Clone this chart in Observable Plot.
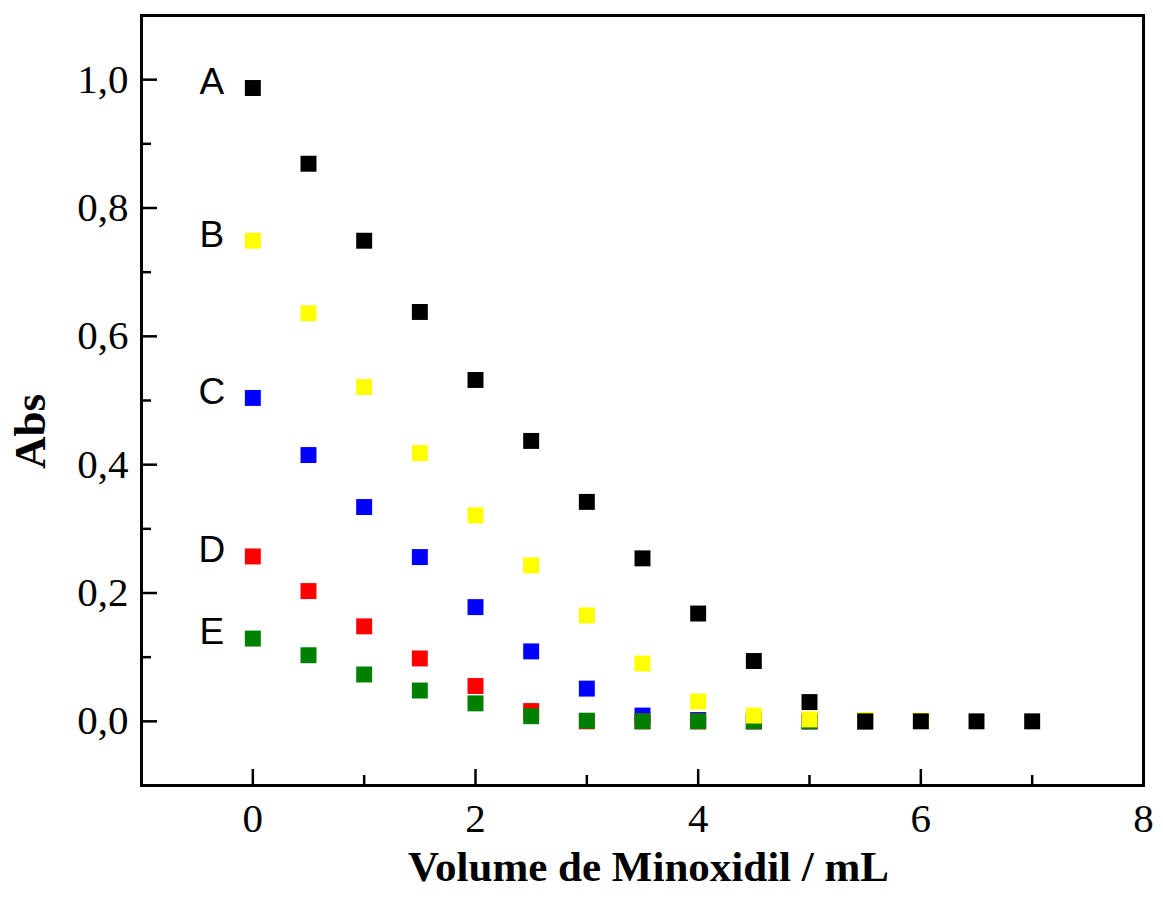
<!DOCTYPE html>
<html>
<head>
<meta charset="utf-8">
<script src="https://cdn.jsdelivr.net/npm/d3@7"></script>
<script src="https://cdn.jsdelivr.net/npm/@observablehq/plot@0.6"></script>
<style>
  body { margin: 0; background: #fff; }
</style>
</head>
<body>
<div id="chart"></div>
<script>
// Absorbance vs. added volume of Minoxidil for five solutions (A–E)
const volume = [0, 0.5, 1, 1.5, 2, 2.5, 3, 3.5, 4, 4.5, 5, 5.5, 6, 6.5, 7];

const absA = [0.987, 0.869, 0.749, 0.638, 0.532, 0.437, 0.342, 0.254, 0.168, 0.094, 0.030, 0.0, 0.0, 0.0, 0.0];
const absB = [0.749, 0.636, 0.521, 0.418, 0.321, 0.243, 0.165, 0.090, 0.031, 0.009, 0.003, 0.002, 0.001];
const absC = [0.504, 0.415, 0.334, 0.256, 0.178, 0.109, 0.051, 0.009, 0.002, 0.0, 0.0, 0.0];
const absD = [0.257, 0.203, 0.148, 0.098, 0.055, 0.016, 0.0, 0.0, 0.0, 0.0, 0.0, 0.0];
const absE = [0.129, 0.103, 0.073, 0.048, 0.028, 0.008, 0.001, 0.0, 0.0, 0.0, 0.0, 0.0];

const seriesNames = ["A", "B", "C", "D", "E"];
const seriesValues = [absA, absB, absC, absD, absE];

const xMajorTicks = [0, 2, 4, 6, 8];
const xMinorTicks = [1, 3, 5, 7];
const yMajorTicks = [0, 0.2, 0.4, 0.6, 0.8, 1.0];
const yMinorTicks = [0.1, 0.3, 0.5, 0.7, 0.9];

// Long-format table; later series are drawn first so A ends up on top
const drawOrder = ["C", "D", "E", "B", "A"];
const points = drawOrder.flatMap(name => {
  const values = seriesValues[seriesNames.indexOf(name)];
  return values.map((v, i) => ({series: name, volume: volume[i], abs: v}));
});
const firstPoints = seriesNames.map((name, k) => ({series: name, volume: volume[0], abs: seriesValues[k][0]}));

const serif = "'Liberation Serif', 'Times New Roman', serif";
const sans = "'Liberation Sans', Arial, sans-serif";
const commaFmt = d => d.toFixed(1).replace(".", ",");

const chart = Plot.plot({
  width: 1163,
  height: 910,
  marginLeft: 141,
  marginRight: 20,
  marginTop: 15,
  marginBottom: 125,
  style: {background: "#fff", color: "#000"},
  x: {domain: [-1, 8]},
  y: {domain: [-0.1, 1.1]},
  color: {
    domain: ["A", "B", "C", "D", "E"],
    range: ["#000000", "#ffff00", "#0000ff", "#ff0000", "#008000"]
  },
  marks: [
    // inward major and minor ticks on the bottom axis
    Plot.axisX({ticks: xMajorTicks, tickSize: -16, strokeWidth: 2.5, tickFormat: null, label: null, text: null}),
    Plot.axisX({ticks: xMinorTicks, tickSize: -10, strokeWidth: 2.5, tickFormat: null, label: null, text: null}),
    Plot.axisX({ticks: xMajorTicks, tickSize: 0, tickPadding: 17, fontSize: 41, fontFamily: serif, tickFormat: d => String(d), label: null}),
    // inward major and minor ticks on the left axis
    Plot.axisY({ticks: yMajorTicks, tickSize: -16, strokeWidth: 2.5, tickFormat: null, label: null, text: null}),
    Plot.axisY({ticks: yMinorTicks, tickSize: -10, strokeWidth: 2.5, tickFormat: null, label: null, text: null}),
    Plot.axisY({ticks: yMajorTicks, tickSize: 0, tickPadding: 13, fontSize: 41, fontFamily: serif, tickFormat: commaFmt, label: null}),
    Plot.frame({stroke: "#000", strokeWidth: 3}),
    Plot.dot(points, {x: "volume", y: "abs", fill: "series", symbol: "square", r: 9}),
    Plot.text(firstPoints, {x: "volume", y: "abs", text: "series", dx: -41, dy: -6, fontSize: 37, fontFamily: sans, fill: "#000"}),
    Plot.text(["Volume de Minoxidil / mL"], {frameAnchor: "bottom", dx: 6, dy: 95, fontSize: 43, fontWeight: "bold", fontFamily: serif, fill: "#000"}),
    Plot.text(["Abs"], {frameAnchor: "left", textAnchor: "middle", lineAnchor: "middle", dx: -111, dy: 31, rotate: -90, fontSize: 45, fontWeight: "bold", fontFamily: serif, fill: "#000"})
  ]
});

document.getElementById("chart").append(chart);
</script>
</body>
</html>
